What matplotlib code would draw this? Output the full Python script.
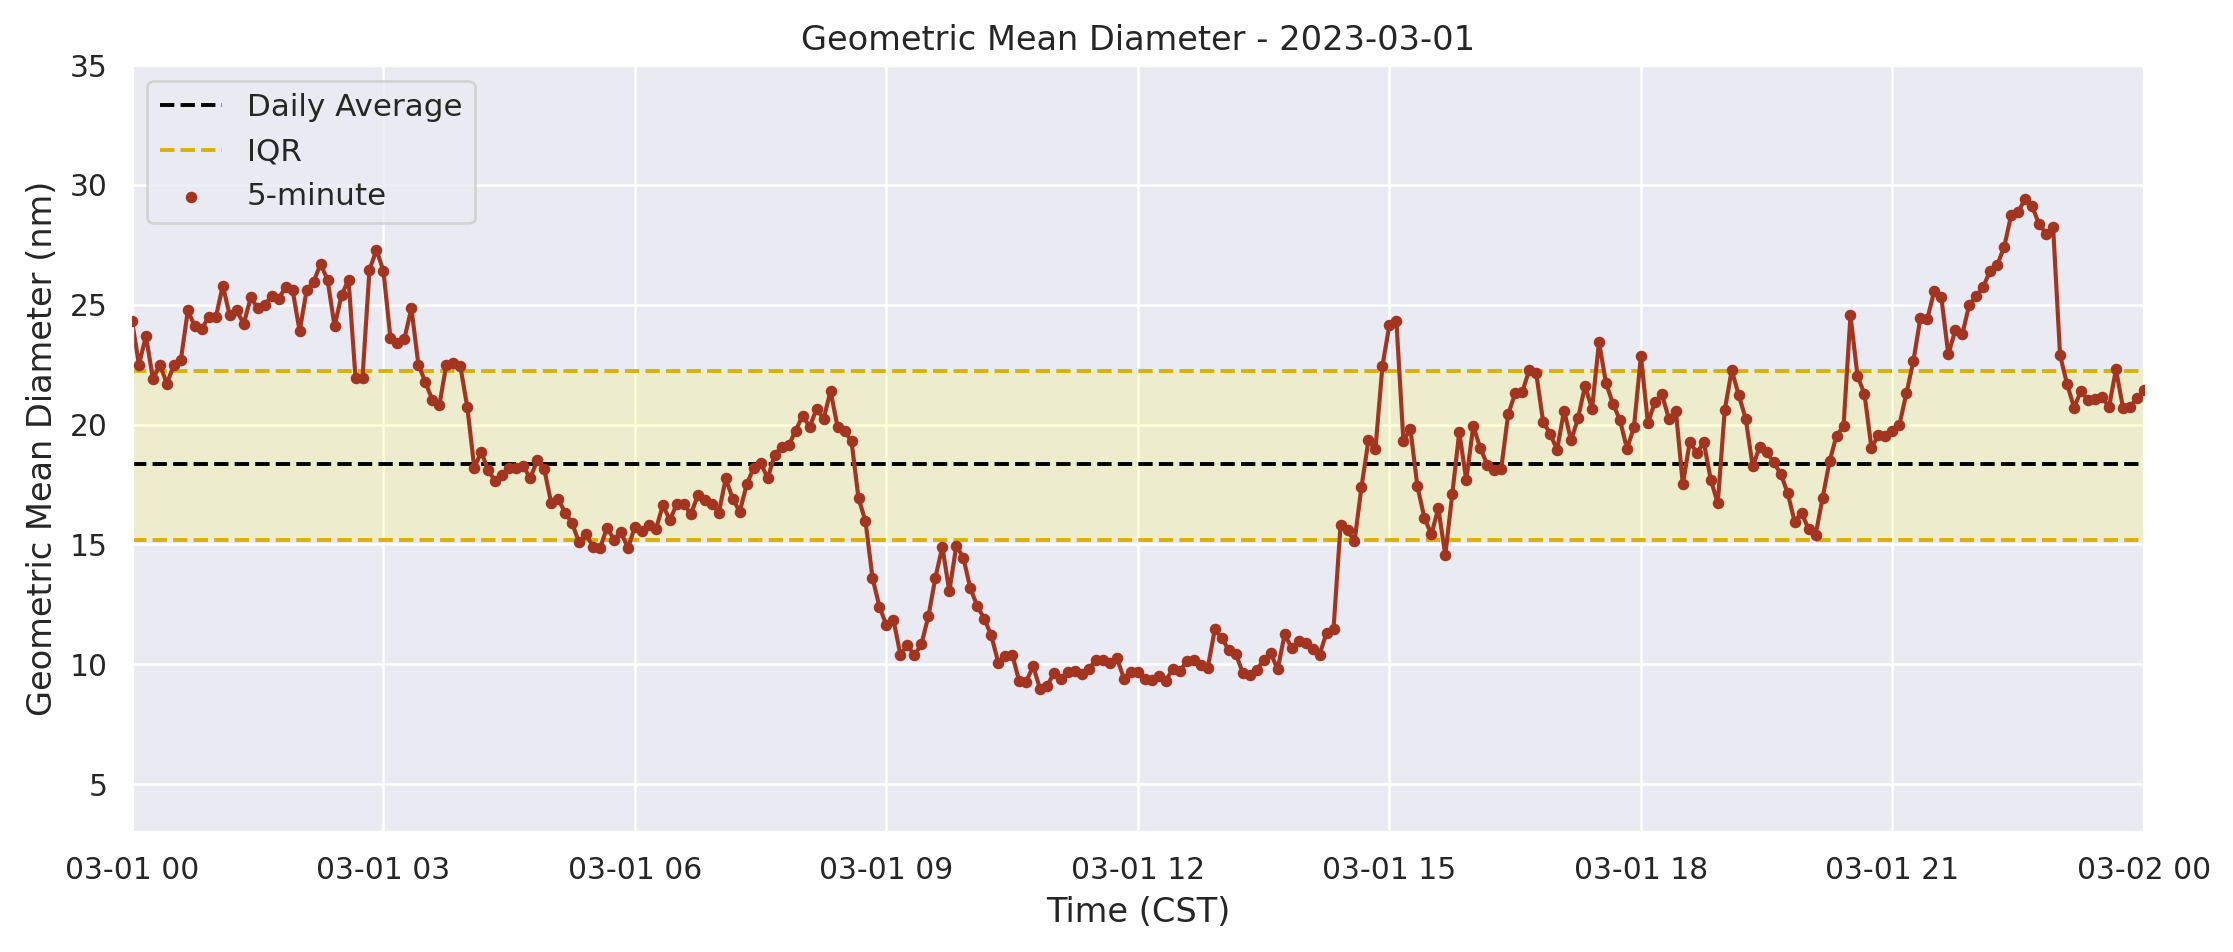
import pandas as pd
import matplotlib
matplotlib.use('Agg')
import matplotlib.pyplot as plt
import matplotlib.dates as mdates
import seaborn as sns

sns.set_theme(style='darkgrid')

# 5-minute geometric mean diameter (nm), 2023-03-01 00:00 -> 2023-03-02 00:00
gmd = [
    24.34, 22.5, 23.7, 21.9, 22.5, 21.7, 22.5, 22.7, 24.76, 24.1,
    24.0, 24.5, 24.47, 25.8, 24.55, 24.76, 24.2, 25.3, 24.87, 25.0,
    25.37, 25.24, 25.75, 25.6, 23.9, 25.6, 25.96, 26.7, 26.04, 24.1,
    25.4, 26.04, 21.95, 21.95, 26.46, 27.29, 26.4, 23.6, 23.4, 23.58,
    24.85, 22.5, 21.77, 21.02, 20.8, 22.5, 22.55, 22.43, 20.73, 18.2,
    18.85, 18.1, 17.63, 17.88, 18.2, 18.2, 18.28, 17.75, 18.5, 18.16,
    16.74, 16.9, 16.32, 15.88, 15.08, 15.42, 14.9, 14.84, 15.7, 15.2,
    15.5, 14.84, 15.74, 15.56, 15.8, 15.63, 16.64, 16.0, 16.7, 16.7,
    16.25, 17.05, 16.87, 16.7, 16.32, 17.75, 16.9, 16.36, 17.5, 18.2,
    18.4, 17.75, 18.74, 19.06, 19.13, 19.74, 20.37, 19.9, 20.65, 20.23,
    21.4, 19.9, 19.74, 19.3, 16.92, 15.97, 13.6, 12.4, 11.62, 11.85,
    10.4, 10.79, 10.37, 10.83, 11.99, 13.6, 14.9, 13.04, 14.94, 14.45,
    13.18, 12.42, 11.9, 11.2, 10.07, 10.33, 10.4, 9.3, 9.27, 9.92,
    8.95, 9.09, 9.64, 9.4, 9.68, 9.7, 9.6, 9.82, 10.17, 10.17,
    10.06, 10.24, 9.4, 9.68, 9.66, 9.4, 9.36, 9.5, 9.31, 9.82,
    9.72, 10.12, 10.17, 9.96, 9.86, 11.45, 11.1, 10.58, 10.44, 9.64,
    9.54, 9.75, 10.19, 10.47, 9.78, 11.24, 10.68, 10.95, 10.9, 10.65,
    10.4, 11.31, 11.48, 15.8, 15.6, 15.12, 17.4, 19.34, 18.99, 22.45,
    24.16, 24.3, 19.32, 19.82, 17.43, 16.11, 15.42, 16.5, 14.55, 17.12,
    19.68, 17.68, 19.94, 19.02, 18.33, 18.12, 18.16, 20.43, 21.3, 21.34,
    22.27, 22.16, 20.12, 19.61, 18.95, 20.58, 19.34, 20.26, 21.62, 20.65,
    23.44, 21.73, 20.86, 20.19, 18.99, 19.88, 22.86, 20.06, 20.93, 21.27,
    20.24, 20.58, 17.5, 19.29, 18.81, 19.25, 17.7, 16.71, 20.61, 22.27,
    21.23, 20.24, 18.26, 19.06, 18.84, 18.42, 17.95, 17.15, 15.95, 16.32,
    15.63, 15.39, 16.92, 18.46, 19.54, 19.92, 24.55, 22.03, 21.27, 19.02,
    19.57, 19.53, 19.74, 19.99, 21.3, 22.64, 24.44, 24.41, 25.59, 25.31,
    22.93, 23.93, 23.76, 25.0, 25.35, 25.75, 26.42, 26.65, 27.41, 28.74,
    28.87, 29.42, 29.11, 28.35, 27.97, 28.26, 22.89, 21.69, 20.71, 21.4,
    21.02, 21.07, 21.16, 20.72, 22.3, 20.71, 20.75, 21.09, 21.44,
]
daily_avg = 18.36
iqr_low = 15.17
iqr_high = 22.22

times = pd.date_range('2023-03-01 00:00', periods=len(gmd), freq='5min')

line_color = '#a3341f'
iqr_color = '#dcb000'

fig, ax = plt.subplots(figsize=(2233 / 186, 952 / 186), dpi=186)
fig.subplots_adjust(left=0.0591, right=0.9601, bottom=0.1261, top=0.9317)

ax.axhspan(iqr_low, iqr_high, color='yellow', alpha=0.15, lw=0)
ax.axhline(daily_avg, color='black', linestyle='--', lw=1.5, label='Daily Average')
ax.axhline(iqr_high, color=iqr_color, linestyle='--', lw=1.5, label='IQR')
ax.axhline(iqr_low, color=iqr_color, linestyle='--', lw=1.5)
ax.plot(times, gmd, color=line_color, lw=1.6)
ax.scatter(times, gmd, color=line_color, s=12, label='5-minute', zorder=3)

ax.xaxis.set_major_locator(mdates.HourLocator(byhour=range(0, 24, 3)))
ax.xaxis.set_major_formatter(mdates.DateFormatter('%m-%d %H'))
ax.set_xlim(pd.Timestamp('2023-03-01'), pd.Timestamp('2023-03-02'))
ax.set_ylim(3, 35)
ax.tick_params(labelsize=11.5)

ax.set_title('Geometric Mean Diameter - 2023-03-01', fontsize=13)
ax.set_xlabel('Time (CST)', fontsize=13)
ax.set_ylabel('Geometric Mean Diameter (nm)', fontsize=13)
ax.legend(loc='upper left', fontsize=12)

fig.savefig('out.png', dpi=186)
